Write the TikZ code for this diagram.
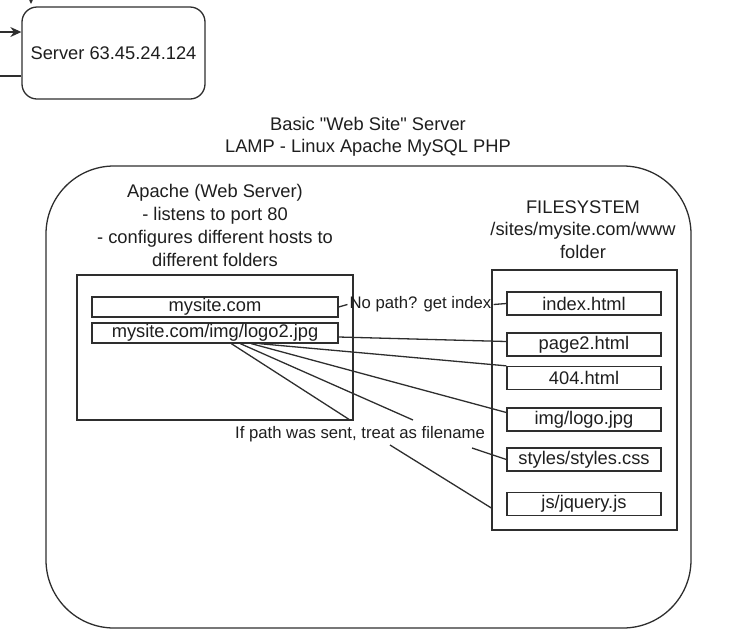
\documentclass[tikz,border=0pt]{standalone}
\usepackage{fontspec}
\setmainfont{Liberation Sans}[Ligatures=TeXOff]
\usetikzlibrary{arrows.meta,calc}
\definecolor{ink}{HTML}{1E1E1E}
\definecolor{stroke}{HTML}{2E2E2E}
\begin{document}
\begin{tikzpicture}[x=1pt,y=-1pt,
  every node/.style={font=\fontsize{18.3}{22.5}\selectfont, text=ink},
  ln/.style={draw=stroke, line width=1.3pt},
  box/.style={ln, rectangle, inner sep=0pt},
  row/.style={box, minimum width=246pt, minimum height=20pt},
  fbox/.style={box, minimum width=154pt, minimum height=23pt},
  txt/.style={align=center, inner sep=0pt},
  elabel/.style={inner sep=2pt, font=\fontsize{16.7}{20}\selectfont},
  tip/.style={-{Stealth[length=11pt,width=10pt]}},
]
\useasboundingbox (0,0) rectangle (729,641);

% server box
\node[box, rounded corners=15pt, minimum width=183pt, minimum height=92pt] (server) at (113.5,53) {Server 63.45.24.124};
\coordinate (inA) at (0,32);
\coordinate (inB) at (0,76);
\coordinate (topA) at (31,-10);
\coordinate (topB) at (31,4);
\draw[ln,tip] (inA) -- (inA -| server.west);
\draw[ln] (inB) -- (inB -| server.west);
\draw[ln,tip] (topA) -- (topB);

% title
\node[txt] (title) at (368,137) {Basic "Web Site" Server\\LAMP - Linux Apache MySQL PHP};

% outer LAMP box
\node[box, rounded corners=68pt, minimum width=645pt, minimum height=462pt] (lamp) at (368.5,397) {};

% Apache
\node[txt, font=\fontsize{18.3}{23}\selectfont] (apachetxt) at (215,225) {Apache (Web Server)\\- listens to port 80\\- configures different hosts to\\different folders};
\node[box, minimum width=276pt, minimum height=145pt] (apache) at (215,347.5) {};
\node[row] (mysite) at (215,307) {mysite.com};
\node[row] (logo2) at (215,333) {mysite.com/img/logo2.jpg};

% Filesystem
\node[txt] (fstxt) at (583,229.5) {FILESYSTEM\\/sites/mysite.com/www\\folder};
\node[box, minimum width=185pt, minimum height=260pt] (fs) at (584.5,400) {};
\node[fbox] (index) at (584,303.5) {index.html};
\node[fbox] (page2) at (584,344.5) {page2.html};
\node[fbox] (e404) at (584,378) {404.html};
\node[fbox] (img) at (584,419.5) {img/logo.jpg};
\node[fbox] (styles) at (584,459.5) {styles/styles.css};
\node[fbox] (jquery) at (584,504) {js/jquery.js};

% labels
\node[elabel] (nopath) at (420.5,304.5) {No path? get index};
\node[elabel, inner sep=0pt] (ifpath) at (360,434) {If path was sent, treat as filename};

% connectors
\draw[ln] (mysite.east) -- (nopath.west);
\draw[ln] (nopath.east) -- (index.west);
\draw[ln] ($(logo2.east)+(0,4)$) -- ($(page2.west)+(0,-3)$);
\draw[ln] ($(logo2.south west)+(168,0)$) -- (e404.north west);
\draw[ln] ($(logo2.south west)+(160,0)$) -- ($(img.west)+(0,-7)$);
\draw[ln] ($(logo2.south west)+(149,0)$) -- ($(ifpath.center)+(53,-14)$);
\draw[ln] ($(logo2.south west)+(140,0)$) -- ($(ifpath.center)+(-10,-14)$);
\draw[ln] ($(ifpath.center)+(112,14)$) -- (styles.west);
\draw[ln] ($(ifpath.center)+(30,11)$) -- ($(jquery.west -| fs.west)+(0,4)$);
\end{tikzpicture}
\end{document}
